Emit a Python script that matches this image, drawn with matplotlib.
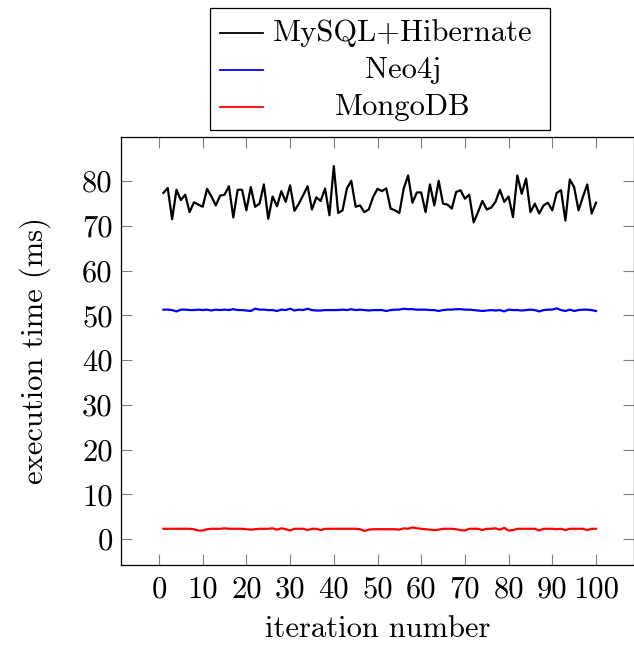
import numpy as np
import matplotlib
matplotlib.use('Agg')
import matplotlib.pyplot as plt
from matplotlib.lines import Line2D
from matplotlib.patches import Rectangle

plt.rcParams['font.family'] = 'serif'
plt.rcParams['font.serif'] = ['cmr10', 'DejaVu Serif']
plt.rcParams['mathtext.fontset'] = 'cm'
plt.rcParams['axes.unicode_minus'] = False

# datos
iteraciones = np.arange(1, 101)
mysql = [77.4, 78.5, 71.5, 78.1, 75.8, 77.0, 73.1, 75.3, 74.8, 74.3,
         78.3, 76.6, 74.6, 76.8, 77.0, 78.9, 71.9, 78.1, 78.1, 73.5,
         78.7, 74.3, 75.0, 79.3, 71.6, 76.6, 74.4, 77.8, 75.4, 79.1,
         73.4, 75.0, 76.9, 78.9, 73.7, 76.4, 75.6, 78.4, 72.4, 83.4,
         72.9, 73.5, 78.4, 80.1, 74.3, 74.6, 73.1, 73.7, 76.5, 78.3,
         77.8, 78.4, 73.9, 73.5, 72.9, 78.4, 81.3, 75.2, 77.5, 77.5,
         73.1, 79.3, 74.6, 80.1, 75.0, 74.8, 73.9, 77.6, 78.0, 76.1,
         77.0, 70.8, 73.1, 75.6, 73.7, 74.1, 75.4, 78.1, 75.4, 76.6,
         72.0, 81.3, 77.2, 80.6, 73.1, 75.0, 72.8, 74.6, 75.2, 73.5,
         77.4, 78.0, 71.2, 80.4, 78.7, 73.5, 76.5, 79.3, 72.8, 75.2]
neo4j = [51.3, 51.3, 51.2, 50.9, 51.3, 51.3, 51.2, 51.2, 51.3, 51.2,
         51.3, 51.1, 51.3, 51.2, 51.3, 51.2, 51.4, 51.2, 51.2, 51.1,
         51.0, 51.5, 51.3, 51.3, 51.2, 51.2, 51.0, 51.3, 51.2, 51.5,
         51.1, 51.3, 51.2, 51.5, 51.2, 51.1, 51.1, 51.2, 51.2, 51.2,
         51.2, 51.3, 51.2, 51.4, 51.2, 51.3, 51.2, 51.1, 51.2, 51.2,
         51.2, 51.0, 51.2, 51.3, 51.3, 51.5, 51.4, 51.4, 51.3, 51.3,
         51.3, 51.2, 51.2, 51.0, 51.2, 51.3, 51.3, 51.4, 51.4, 51.3,
         51.3, 51.2, 51.1, 51.0, 51.1, 51.2, 51.1, 51.2, 50.9, 51.3,
         51.2, 51.2, 51.1, 51.2, 51.3, 51.2, 50.9, 51.2, 51.3, 51.3,
         51.6, 51.2, 51.0, 51.3, 51.0, 51.2, 51.3, 51.3, 51.2, 51.0]
mongodb = [2.3, 2.3, 2.3, 2.3, 2.3, 2.3, 2.3, 2.2, 1.9, 1.9,
           2.2, 2.3, 2.3, 2.3, 2.4, 2.3, 2.3, 2.3, 2.3, 2.2,
           2.1, 2.2, 2.3, 2.3, 2.3, 2.4, 2.1, 2.4, 2.2, 1.9,
           2.3, 2.3, 2.3, 2.0, 2.3, 2.3, 2.0, 2.3, 2.3, 2.3,
           2.3, 2.3, 2.3, 2.3, 2.3, 2.2, 1.8, 2.1, 2.2, 2.2,
           2.2, 2.2, 2.2, 2.2, 2.1, 2.4, 2.3, 2.6, 2.4, 2.3,
           2.2, 2.1, 2.0, 2.1, 2.3, 2.3, 2.3, 2.2, 2.0, 1.9,
           2.3, 2.3, 2.3, 2.0, 2.3, 2.3, 2.4, 2.1, 2.5, 1.9,
           2.0, 2.3, 2.3, 2.3, 2.3, 2.3, 1.9, 2.3, 2.3, 2.3,
           2.2, 2.3, 2.0, 2.3, 2.3, 2.3, 2.3, 2.0, 2.3, 2.3]
nombres = ['MySQL+Hibernate', 'Neo4j', 'MongoDB']
colores = ['black', 'blue', 'red']
xticks = np.arange(0, 101, 10)
yticks = np.arange(0, 81, 10)

W, H = 634, 645
fs = 22
fig = plt.figure(figsize=(W / 100, H / 100), dpi=100)
# ejes en pixeles: izq 121, der 634, arriba 137, abajo 565
ax = fig.add_axes([121 / W, 1 - 565 / H, (634 - 121) / W, (565 - 137) / H])

for serie, nombre, color in zip([mysql, neo4j, mongodb], nombres, colores):
    ax.plot(iteraciones, serie, color=color, lw=1.6, label=nombre)

ax.set_xlim((121 - 159) / 4.37, (634 - 159) / 4.37)
ax.set_ylim(-5.8, 89.9)
ax.set_xticks(xticks)
ax.set_yticks(yticks)
ax.tick_params(direction='in', length=8, width=0.8, color='#808080',
               top=True, right=True, labelsize=fs)
ax.tick_params(axis='x', pad=8)
ax.tick_params(axis='y', pad=6)
for s in ax.spines.values():
    s.set_linewidth(0.9)
ax.set_xlabel('iteration number', fontsize=fs, labelpad=9)
ax.set_ylabel('execution time (ms)', fontsize=fs, labelpad=22)

# leyenda dibujada a mano (texto centrado como en pgfplots)
fig.add_artist(Rectangle((210 / W, 1 - 130 / H), 340 / W, 122 / H,
                         transform=fig.transFigure, fill=False,
                         edgecolor='black', lw=0.9))
filas = [33, 70, 107]
for fila, nombre, color in zip(filas, nombres, colores):
    yy = 1 - fila / H
    fig.add_artist(Line2D([220 / W, 263 / W], [yy, yy], color=color, lw=1.3,
                          transform=fig.transFigure))
    fig.text(403 / W, yy, nombre, ha='center', va='center', fontsize=fs)

fig.savefig('out.png', dpi=100)
